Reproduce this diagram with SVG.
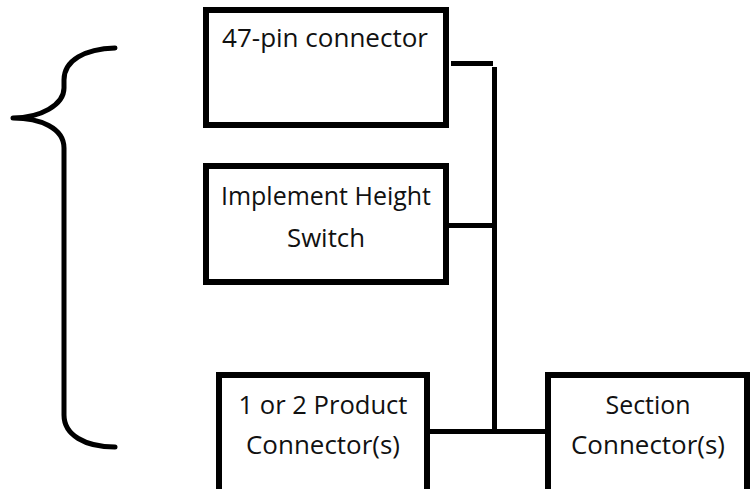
<svg xmlns="http://www.w3.org/2000/svg" width="751" height="489" viewBox="0 0 751 489">
<style>
.box{fill:#fff;stroke:#000;stroke-width:6}
.lbl{font-family:"Open Sans","Liberation Sans",sans-serif;font-size:26px;fill:#111;text-anchor:middle}
.con line{stroke:#000;stroke-width:5}
</style>
<rect width="751" height="489" fill="#fff"/>
<g id="brace">
<path d="M115,48 C85,49 64,60 64,80 L64,88 C64,105 40,118 13,118 C40,118 64,128 64,148 L64,415 C64,435 85,447 115,447" fill="none" stroke="#000" stroke-width="5" stroke-linecap="round" stroke-linejoin="round"/>
</g>
<g class="con" id="connectors">
<line x1="451" y1="63.5" x2="493" y2="63.5"/>
<line x1="494.5" y1="67" x2="494.5" y2="434"/>
<line x1="449" y1="225.5" x2="497" y2="225.5"/>
<line x1="430" y1="431.5" x2="552" y2="431.5"/>
</g>
<g id="node-47pin">
<rect class="box" x="206" y="10" width="240" height="115"/>
<text class="lbl" x="325" y="47" textLength="206" lengthAdjust="spacingAndGlyphs">47-pin connector</text>
</g>
<g id="node-height">
<rect class="box" x="206" y="166" width="240" height="116"/>
<text class="lbl" x="326" y="205" textLength="210" lengthAdjust="spacingAndGlyphs">Implement Height</text>
<text class="lbl" x="326" y="247" textLength="78" lengthAdjust="spacingAndGlyphs">Switch</text>
</g>
<g id="node-product">
<rect class="box" x="219" y="375" width="208" height="125"/>
<text class="lbl" x="323" y="414" textLength="169" lengthAdjust="spacingAndGlyphs">1 or 2 Product</text>
<text class="lbl" x="323" y="454" textLength="154" lengthAdjust="spacingAndGlyphs">Connector(s)</text>
</g>
<g id="node-section">
<rect class="box" x="548" y="375" width="199" height="125"/>
<text class="lbl" x="648" y="414" textLength="85" lengthAdjust="spacingAndGlyphs">Section</text>
<text class="lbl" x="648" y="454" textLength="154" lengthAdjust="spacingAndGlyphs">Connector(s)</text>
</g>
</svg>
